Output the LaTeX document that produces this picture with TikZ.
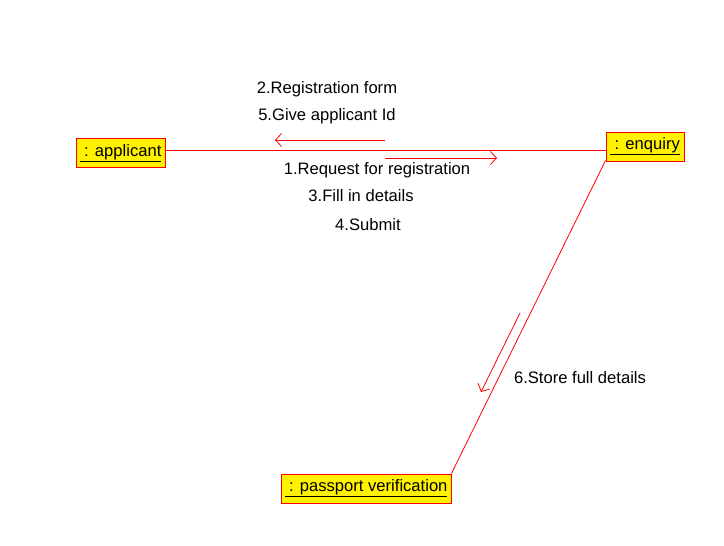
\documentclass[tikz,border=0pt]{standalone}
\usepackage{fontspec}
\setmainfont{Liberation Sans}
\usetikzlibrary{arrows.meta, positioning}

\begin{document}
\begin{tikzpicture}[
  x=1pt, y=-1pt,
  font=\fontsize{16.6}{19}\selectfont,
  obj/.style={draw=red, fill=yellow, line width=0.9pt, minimum height=29pt, inner sep=0pt}, % object boxes
  link/.style={draw=red, line width=0.8pt},
  msg/.style={draw=red, line width=0.8pt, -{Straight Barb[length=6pt,width=13pt]}},
  lbl/.style={inner sep=0pt}]

  \useasboundingbox (0,0) rectangle (724,546);

  \node[obj, minimum width=89pt] (applicant) at (120.5,153) {\underline{\ : applicant}};
  \node[obj, minimum width=78pt] (enquiry) at (645,146.5) {\underline{\ : enquiry}};
  \node[obj, minimum width=170pt] (passport) at (366,488.5) {\underline{\ : passport verification}};

  % links
  \draw[link] (applicant.east |- 0,150) -- (enquiry.west |- 0,150);
  \draw[link] (enquiry.south west) ++(0,-1) -- (passport.north east);

  % messages
  \coordinate (m1s) at (385,158);
  \coordinate (m1e) at (497,158);
  \coordinate (m2s) at (385,140);
  \coordinate (m2e) at (275,140);
  \coordinate (m6s) at (520,313);
  \coordinate (m6e) at (481,392);
  \draw[msg] (m2s) -- (m2e);
  \draw[msg] (m1s) -- (m1e);
  \draw[msg] (m6s) -- (m6e);

  \node[lbl] (l2) at (327,89) {2.Registration form};
  \node[lbl] (l5) at (327,116) {5.Give applicant Id};
  \node[lbl] (l1) at (377,170) {1.Request for registration};
  \node[lbl] (l3) at (361,196) {3.Fill in details};
  \node[lbl] (l4) at (368,225) {4.Submit};
  \node[lbl] (l6) at (580,378) {6.Store full details};
\end{tikzpicture}
\end{document}
